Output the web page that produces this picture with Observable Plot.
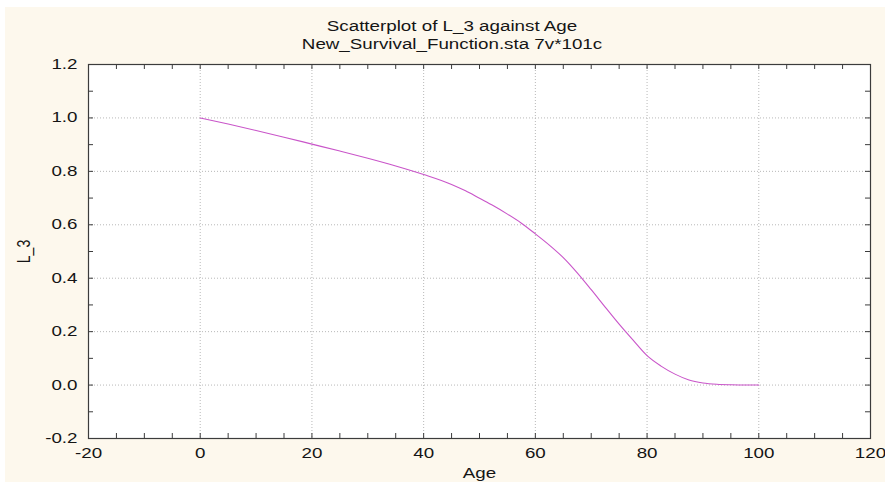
<!DOCTYPE html>
<html>
<head>
<meta charset="utf-8">
<script src="https://cdn.jsdelivr.net/npm/d3@7"></script>
<script src="https://cdn.jsdelivr.net/npm/@observablehq/plot@0.6"></script>
<style>
html, body { margin: 0; padding: 0; background: #ffffff; }
#wrap { position: relative; width: 885px; height: 482px; overflow: hidden; background: #ffffff;
        font-family: "Liberation Sans", Arial, sans-serif; }
#panel { position: absolute; left: 5px; top: 7px; width: 880px; height: 475px; background: #fdf8ed; }
.title { position: absolute; left: 452px; white-space: nowrap; font-size: 14px; color: #151515;
         line-height: 16px; transform: translateX(-50%) scaleX(1.34); }
#chart { position: absolute; left: 0; top: 56px; }
</style>
</head>
<body>
<div id="wrap">
  <div id="panel"></div>
  <div class="title" style="top:18px">Scatterplot of L_3 against Age</div>
  <div class="title" style="top:36px">New_Survival_Function.sta 7v*101c</div>
  <div id="chart"></div>
</div>
<script>
// ---- data ----
const ages = [0, 5, 10, 15, 20, 25, 30, 35, 40, 45, 47.5, 50, 52.5, 55, 57.5, 60, 62.5, 65, 67.5, 70,
              72.5, 75, 77.5, 80, 82.5, 85, 87.5, 90, 92.5, 95, 97.5, 100];
const L3 = [1.000, 0.977, 0.953, 0.928, 0.902, 0.876, 0.849, 0.820, 0.788, 0.751, 0.727, 0.699, 0.671, 0.640, 0.606, 0.566, 0.524, 0.477, 0.420, 0.357,
            0.292, 0.228, 0.168, 0.110, 0.071, 0.041, 0.019, 0.008, 0.003, 0.001, 0.000, 0.000];

// ---- ticks ----
const xMajor = [-20, 0, 20, 40, 60, 80, 100, 120];
const xMinor = [-20, -15, -10, -5, 0, 5, 10, 15, 20, 25, 30, 35, 40, 45, 50, 55, 60, 65, 70, 75, 80, 85, 90, 95, 100, 105, 110, 115, 120];
const yMajor = [-0.2, 0.0, 0.2, 0.4, 0.6, 0.8, 1.0, 1.2];
const yMinor = [-0.2, -0.1, 0.0, 0.1, 0.2, 0.3, 0.4, 0.5, 0.6, 0.7, 0.8, 0.9, 1.0, 1.1, 1.2];
const xTitle = "Age";
const yTitle = "L_3";

const data = ages.map((a, i) => ({Age: a, L_3: L3[i]}));

const W = 885, H = 426, mL = 88, mR = 15, mT = 8, mB = 44;
const fw = W - mL - mR, fh = H - mT - mB, tl = 5;
const ink = "#3c3c3c";

const chart = Plot.plot({
  width: W, height: H,
  marginLeft: mL, marginRight: mR, marginTop: mT, marginBottom: mB,
  style: {background: "transparent", fontFamily: "Liberation Sans, Arial, sans-serif", fontSize: "14px", color: "#151515"},
  x: {domain: [-20, 120], nice: false},
  y: {domain: [-0.2, 1.2], nice: false},
  marks: [
    Plot.frame({fill: "#ffffff", stroke: null}),
    Plot.gridX(xMajor, {stroke: "#b8b8b8", strokeOpacity: 1, strokeDasharray: "1,2"}),
    Plot.gridY(yMajor, {stroke: "#b8b8b8", strokeOpacity: 1, strokeDasharray: "1,2"}),
    Plot.line(data, {x: "Age", y: "L_3", stroke: "#c955c9", strokeWidth: 1.1, curve: "monotone-x"}),
    Plot.frame({stroke: ink, strokeWidth: 1.2}),
    Plot.tickX(xMinor, {x: d => d, insetTop: fh - tl, stroke: ink}),
    Plot.tickX(xMinor, {x: d => d, insetBottom: fh - tl, stroke: ink}),
    Plot.tickY(yMinor, {y: d => d, insetRight: fw - tl, stroke: ink}),
    Plot.tickY(yMinor, {y: d => d, insetLeft: fw - tl, stroke: ink}),
    Plot.axisX(xMajor, {tickSize: 0, tickPadding: 10, tickFormat: d => String(d), label: null, fontSize: 14}),
    Plot.axisY(yMajor, {tickSize: 0, tickPadding: 11, tickFormat: d => d.toFixed(1), label: null, fontSize: 14}),
    Plot.text([xTitle], {text: d => d, frameAnchor: "bottom", dy: 39, fontSize: 14, fill: "#151515"}),
    Plot.text([yTitle], {text: d => d, frameAnchor: "left", textAnchor: "middle", dx: -63, rotate: -90, fontSize: 14, fill: "#151515"})
  ]
});

// widen glyphs horizontally (screen x), as in the reference picture
const S = 1.34;
function rescale(t, attr) {
  const v = t.getAttribute(attr);
  if (v == null) return;
  const m = /^(-?[\d.]+)(.*)$/.exec(v.trim());
  if (m) t.setAttribute(attr, (parseFloat(m[1]) / S) + m[2]);
}
chart.querySelectorAll("text").forEach(t => {
  const tr = t.getAttribute("transform") || "";
  const rotated = /rotate/.test(tr);
  if (rotated) {
    t.setAttribute("transform", `${tr} scale(1,${S})`);
    rescale(t, "y");
  } else {
    t.setAttribute("transform", `${tr} scale(${S},1)`);
    rescale(t, "x");
  }
});

document.getElementById("chart").appendChild(chart);
</script>
</body>
</html>
